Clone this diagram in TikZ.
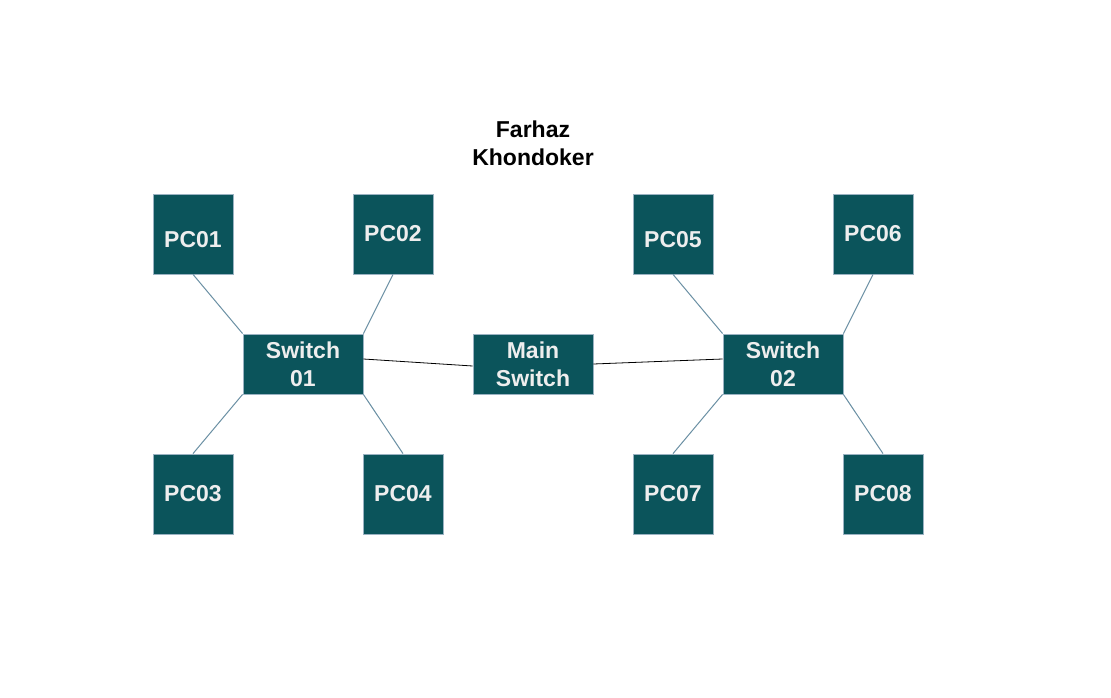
\documentclass[tikz,border=0pt]{standalone}
\usepackage{fontspec}
\setmainfont{Liberation Sans}
\definecolor{boxfill}{HTML}{0B545B}
\definecolor{boxline}{HTML}{9AB2C2}
\definecolor{linkcol}{HTML}{6B90A4}
\definecolor{txtcol}{HTML}{EEEEEE}
\newcommand{\shiftdown}[1]{\raisebox{-6pt}[\height][\depth]{#1}}
\tikzset{
  pcbox/.style={rectangle, draw=boxline, fill=boxfill, line width=0.8pt, minimum width=80pt, minimum height=80pt, inner sep=0pt, text=txtcol, font=\bfseries\fontsize{23}{28}\selectfont, align=center},
  swbox/.style={pcbox, minimum width=120pt, minimum height=60pt},
  link/.style={draw=linkcol, line width=1pt},
  mainlink/.style={draw=black, line width=0.8pt},
  titletext/.style={font=\bfseries\fontsize{23}{28}\selectfont, align=center, text=black}
}
\begin{document}
\begin{tikzpicture}[x=1pt, y=-1pt]
\path[use as bounding box, fill=white] (0,0) rectangle (1111,698);
\node[titletext] (title) at (533,143) {Farhaz\\Khondoker};
\node[pcbox] (pc1) at (193,234) {\shiftdown{PC01}};
\node[pcbox] (pc2) at (393,234) {PC02};
\node[pcbox] (pc5) at (673,234) {\shiftdown{PC05}};
\node[pcbox] (pc6) at (873,234) {PC06};
\node[pcbox] (pc3) at (193,494) {PC03};
\node[pcbox] (pc4) at (403,494) {PC04};
\node[pcbox] (pc7) at (673,494) {PC07};
\node[pcbox] (pc8) at (883,494) {PC08};
\node[swbox] (sw1) at (303,364) {Switch\\01};
\node[swbox] (main) at (533,364) {Main\\Switch};
\node[swbox] (sw2) at (783,364) {Switch\\02};
\draw[link] (pc1.south) -- (sw1.north west);
\draw[link] (pc2.south) -- (sw1.north east);
\draw[link] (pc3.north) -- (sw1.south west);
\draw[link] (pc4.north) -- (sw1.south east);
\draw[link] (pc5.south) -- (sw2.north west);
\draw[link] (pc6.south) -- (sw2.north east);
\draw[link] (pc7.north) -- (sw2.south west);
\draw[link] (pc8.north) -- (sw2.south east);
\draw[mainlink] ([yshift=5pt]sw1.east) -- ([yshift=-2pt]main.west);
\draw[mainlink] (main.east) -- ([yshift=5pt]sw2.west);
\end{tikzpicture}
\end{document}
